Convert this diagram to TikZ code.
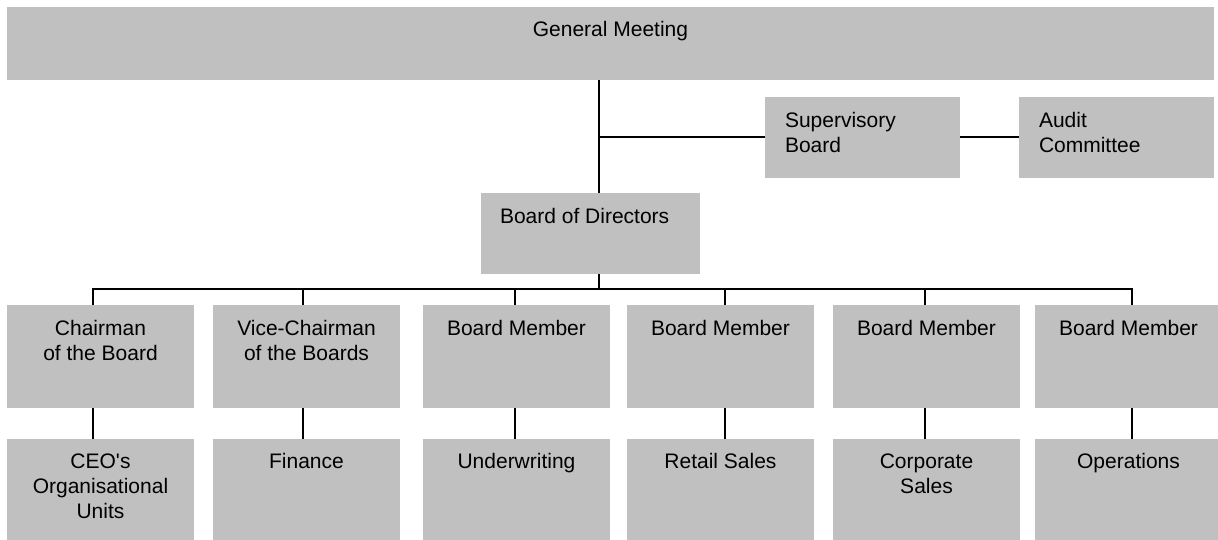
\documentclass[tikz,border=0pt]{standalone}
\usepackage{fontspec}
\newfontfamily\arialish{Liberation Sans}
\definecolor{boxgray}{HTML}{C0C0C0}
\newcommand\txtlines[2][c]{\begin{tabular}[t]{@{}#1@{}}#2\end{tabular}}
\begin{document}
\begin{tikzpicture}[x=1pt,y=-1pt,
  box/.style={fill=boxgray, draw=none, inner sep=0pt, outer sep=0pt, anchor=north west},
  rowbox/.style={box, minimum width=187pt, minimum height=103pt},
  txt/.style={font=\arialish\fontsize{21}{25}\selectfont, inner sep=0pt, outer sep=0pt, text=black},
  conn/.style={draw=black, line width=2pt}]
\useasboundingbox (0,0) rectangle (1218,539);

% upper boxes
\node[box, minimum width=1207pt, minimum height=73pt] (gm) at (7,7) {};
\node[box, minimum width=195pt, minimum height=81pt] (sb) at (765,97) {};
\node[box, minimum width=195pt, minimum height=81pt] (ac) at (1019,97) {};
\node[box, minimum width=219pt, minimum height=81pt] (bod) at (481,193) {};

% member row and unit row
\foreach \i/\x in {1/7, 2/213, 3/423, 4/627, 5/833, 6/1035} {
  \node[rowbox] (m\i) at (\x,305) {};
  \node[rowbox] (u\i) at (\x,439) {};
}

% texts
\node[txt, anchor=base] (tgm) at ([yshift=-29pt]gm.north) {General Meeting};
\node[txt, anchor=base west] (tsb) at ([xshift=20pt,yshift=-30pt]sb.north west) {\txtlines[l]{Supervisory\\Board}};
\node[txt, anchor=base west] (tac) at ([xshift=20pt,yshift=-30pt]ac.north west) {\txtlines[l]{Audit\\Committee}};
\node[txt, anchor=base west] (tbod) at ([xshift=19pt,yshift=-30pt]bod.north west) {Board of Directors};

\node[txt, anchor=base] (tm1) at ([yshift=-30pt]m1.north) {\txtlines{Chairman\\of the Board}};
\node[txt, anchor=base] (tm2) at ([yshift=-30pt]m2.north) {\txtlines{Vice-Chairman\\of the Boards}};
\node[txt, anchor=base] (tm3) at ([yshift=-30pt]m3.north) {Board Member};
\node[txt, anchor=base] (tm4) at ([yshift=-30pt]m4.north) {Board Member};
\node[txt, anchor=base] (tm5) at ([yshift=-30pt]m5.north) {Board Member};
\node[txt, anchor=base] (tm6) at ([yshift=-30pt]m6.north) {Board Member};

\node[txt, anchor=base] (tu1) at ([yshift=-29pt]u1.north) {\txtlines{CEO's\\Organisational\\Units}};
\node[txt, anchor=base] (tu2) at ([yshift=-29pt]u2.north) {Finance};
\node[txt, anchor=base] (tu3) at ([yshift=-29pt]u3.north) {Underwriting};
\node[txt, anchor=base] (tu4) at ([yshift=-29pt]u4.north) {Retail Sales};
\node[txt, anchor=base] (tu5) at ([yshift=-29pt]u5.north) {\txtlines{Corporate\\Sales}};
\node[txt, anchor=base] (tu6) at ([yshift=-29pt]u6.north) {Operations};

% connectors
\coordinate (jt) at (599,137);
\coordinate (jb) at (599,289);
\draw[conn] (jt |- gm.south) -- (jt |- bod.north);
\draw[conn] (jt) -- (jt -| sb.west);
\draw[conn] (sb.east |- jt) -- (ac.west |- jt);
\draw[conn] (jb |- bod.south) -- (jb);

\foreach \i/\x in {1/93, 2/303, 3/515, 4/725, 5/925, 6/1132}
  \coordinate (d\i) at (\x,289);
\draw[conn] ([xshift=-1pt]d1) -- ([xshift=1pt]d6);
\foreach \i in {1,...,6} {
  \draw[conn] (d\i) -- (d\i |- m\i.north);
  \draw[conn] (d\i |- m\i.south) -- (d\i |- u\i.north);
}
\end{tikzpicture}
\end{document}
